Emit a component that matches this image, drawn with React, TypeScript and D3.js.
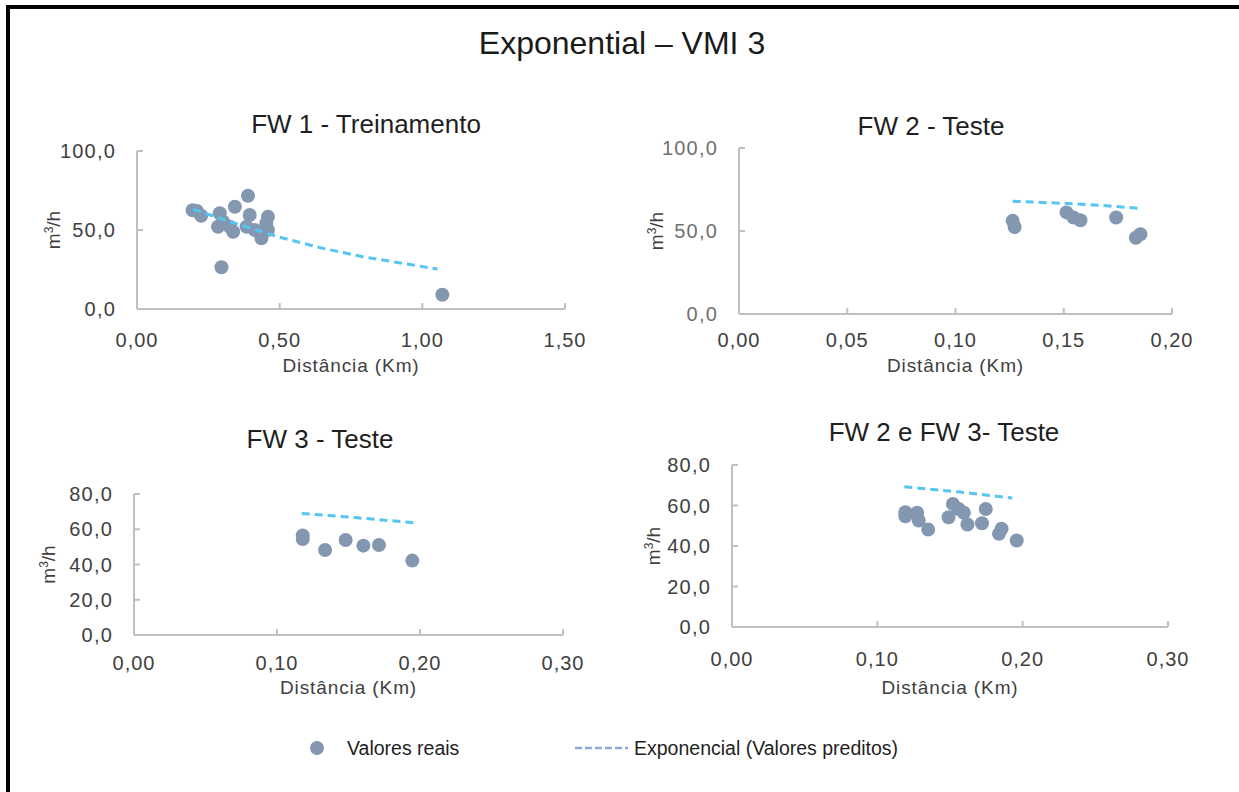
import React from "react";
import * as d3 from "d3";

// ---------- data ----------
const chartTitle = "Exponential – VMI 3";
const panelTitles = ["FW 1 - Treinamento", "FW 2 - Teste", "FW 3 - Teste", "FW 2 e FW 3- Teste"];
const xAxisTitle = "Distância (Km)";
const legendLabels = ["Valores reais", "Exponencial (Valores preditos)"];

const fw1X = [0.195, 0.21, 0.225, 0.29, 0.343, 0.389, 0.284, 0.302, 0.337, 0.325, 0.395, 0.384, 0.413, 0.436, 0.459, 0.459, 0.453, 0.296, 1.07];
const fw1Y = [62.5, 62.0, 59.0, 60.6, 64.7, 71.7, 52.1, 55.3, 48.9, 52.1, 59.5, 52.1, 50.0, 44.7, 58.4, 50.0, 54.2, 26.4, 9.0];
const fw1PredX = [0.197, 0.325, 0.5, 0.651, 0.791, 0.931, 1.053];
const fw1PredY = [63.1, 55.3, 45.4, 38.4, 33.1, 28.9, 25.3];

const fw2X = [0.1264, 0.1273, 0.1513, 0.1545, 0.1577, 0.1742, 0.1833, 0.1854];
const fw2Y = [56.1, 52.4, 61.2, 58.1, 56.5, 58.1, 45.9, 48.0];
const fw2PredX = [0.1264, 0.1497, 0.1697, 0.1857];
const fw2PredY = [67.9, 66.7, 65.2, 63.6];

const fw3X = [0.118, 0.118, 0.1336, 0.148, 0.1604, 0.1713, 0.1946];
const fw3Y = [56.5, 54.5, 48.2, 53.9, 50.7, 51.1, 42.2];
const fw3PredX = [0.1173, 0.155, 0.1958];
const fw3PredY = [69.0, 66.6, 63.7];

const fw23X = [0.1193, 0.1193, 0.1274, 0.1285, 0.135, 0.149, 0.152, 0.156, 0.1595, 0.162, 0.172, 0.1746, 0.1837, 0.1855, 0.1959];
const fw23Y = [56.7, 54.7, 56.4, 52.6, 48.1, 54.2, 60.8, 58.3, 56.4, 50.6, 51.2, 58.3, 46.0, 48.5, 42.7];
const fw23PredX = [0.1186, 0.155, 0.1929];
const fw23PredY = [69.3, 66.8, 63.7];

const fw1XTicks = [0, 0.5, 1.0, 1.5];
const fw1YTicks = [0, 50, 100];
const fw2XTicks = [0, 0.05, 0.1, 0.15, 0.2];
const fw2YTicks = [0, 50, 100];
const fw3XTicks = [0, 0.1, 0.2, 0.3];
const fw3YTicks = [0, 20, 40, 60, 80];

// ---------- styles ----------
const DOT = "#8497b0";
const LINE = "#56c5f2";
const AXIS = "#bfbfbf";
const FONT = "'Liberation Sans', Arial, sans-serif";

const locale = d3.formatLocale({ decimal: ",", thousands: ".", grouping: [3], currency: ["", ""] });
const f2 = locale.format(".2f");
const f1 = locale.format(".1f");

type Panel = {
  title: string;
  titleX: number; titleY: number;
  xr: [number, number]; yr: [number, number];
  xd: [number, number]; yd: [number, number];
  xt: number[]; yt: number[];
  xs: number[]; ys: number[]; px: number[]; py: number[];
  xLabelY: number; xTitleY: number; yTitleX: number; yLabelColor: string;
};

const panels: Panel[] = [
  { title: panelTitles[0], titleX: 366, titleY: 133, xr: [137, 565], yr: [309, 151], xd: [0, 1.5], yd: [0, 100], xt: fw1XTicks, yt: fw1YTicks, xs: fw1X, ys: fw1Y, px: fw1PredX, py: fw1PredY, xLabelY: 347, xTitleY: 372, yTitleX: 60, yLabelColor: "#404040" },
  { title: panelTitles[1], titleX: 931, titleY: 135, xr: [739, 1172], yr: [314, 148], xd: [0, 0.2], yd: [0, 100], xt: fw2XTicks, yt: fw2YTicks, xs: fw2X, ys: fw2Y, px: fw2PredX, py: fw2PredY, xLabelY: 347, xTitleY: 372, yTitleX: 663, yLabelColor: "#707070" },
  { title: panelTitles[2], titleX: 320, titleY: 448, xr: [134, 563], yr: [635, 494], xd: [0, 0.3], yd: [0, 80], xt: fw3XTicks, yt: fw3YTicks, xs: fw3X, ys: fw3Y, px: fw3PredX, py: fw3PredY, xLabelY: 670, xTitleY: 694, yTitleX: 55, yLabelColor: "#404040" },
  { title: panelTitles[3], titleX: 944, titleY: 441, xr: [732, 1168], yr: [627, 465], xd: [0, 0.3], yd: [0, 80], xt: fw3XTicks, yt: fw3YTicks, xs: fw23X, ys: fw23Y, px: fw23PredX, py: fw23PredY, xLabelY: 666, xTitleY: 694, yTitleX: 660, yLabelColor: "#404040" },
];

function PanelView({ p }: { p: Panel }) {
  const x = d3.scaleLinear().domain(p.xd).range(p.xr);
  const y = d3.scaleLinear().domain(p.yd).range(p.yr);
  const line = d3.line<number>().x((_, i) => x(p.px[i])).y((_, i) => y(p.py[i]));
  const x0 = p.xr[0];
  const y0 = p.yr[0];
  const yMid = (p.yr[0] + p.yr[1]) / 2;
  const xMid = (p.xr[0] + p.xr[1]) / 2;
  return (
    <g>
      <text x={p.titleX} y={p.titleY} textAnchor="middle" fontSize={26} fill="#1f1f1f" fontFamily={FONT}>{p.title}</text>
      {/* axes */}
      <line x1={x0} x2={x0} y1={y(p.yd[1])} y2={y0} stroke={AXIS} strokeWidth={2} />
      <line x1={x0} x2={x(p.xd[1])} y1={y0} y2={y0} stroke={AXIS} strokeWidth={2} />
      {p.yt.map((t) => (
        <g key={"y" + t}>
          <line x1={x0} x2={x0 + 6} y1={y(t)} y2={y(t)} stroke={AXIS} strokeWidth={2} />
          <text x={x0 - 21} y={y(t) + 7} textAnchor="end" fontSize={20} fill={p.yLabelColor} fontFamily={FONT} letterSpacing={1.2}>{f1(t)}</text>
        </g>
      ))}
      {p.xt.map((t) => (
        <g key={"x" + t}>
          <line x1={x(t)} x2={x(t)} y1={y0} y2={y0 - 6} stroke={AXIS} strokeWidth={2} />
          <text x={x(t)} y={p.xLabelY} textAnchor="middle" fontSize={20} fill="#404040" fontFamily={FONT} letterSpacing={1}>{f2(t)}</text>
        </g>
      ))}
      <text x={xMid} y={p.xTitleY} textAnchor="middle" fontSize={19} fill="#404040" fontFamily={FONT} letterSpacing={0.9}>{xAxisTitle}</text>
      <text transform={`translate(${p.yTitleX},${yMid}) rotate(-90)`} textAnchor="middle" fontSize={19} fill="#404040" fontFamily={FONT}>
        m<tspan fontSize={12} dy={-7}>3</tspan><tspan dy={7}>/h</tspan>
      </text>
      {/* points */}
      {p.xs.map((v, i) => (
        <circle key={"c" + i} cx={x(v)} cy={y(p.ys[i])} r={7} fill={DOT} />
      ))}
      <path d={line(p.px) || ""} fill="none" stroke={LINE} strokeWidth={3} strokeDasharray="8,5" />
    </g>
  );
}

export default function App() {
  return (
    <svg width={1239} height={792} style={{ position: "absolute", left: 0, top: 0, background: "#fff" }}>
      <rect x={0} y={0} width={1239} height={792} fill="#fff" />
      <line x1={6} x2={1239} y1={7} y2={7} stroke="#000" strokeWidth={4} />
      <line x1={8} x2={8} y1={5} y2={792} stroke="#000" strokeWidth={4} />
      <text x={622} y={54} textAnchor="middle" fontSize={32} fill="#1a1a1a" fontFamily={FONT}>{chartTitle}</text>
      {panels.map((p, i) => <PanelView key={i} p={p} />)}
      {/* legend */}
      <circle cx={317} cy={748} r={7} fill={DOT} />
      <text x={347} y={755} fontSize={19.5} fill="#1f1f1f" fontFamily={FONT}>{legendLabels[0]}</text>
      <line x1={575} x2={628} y1={748} y2={748} stroke="#8eaadb" strokeWidth={2.5} strokeDasharray="7,3" />
      <text x={634} y={755} fontSize={19.5} fill="#1f1f1f" fontFamily={FONT}>{legendLabels[1]}</text>
    </svg>
  );
}
